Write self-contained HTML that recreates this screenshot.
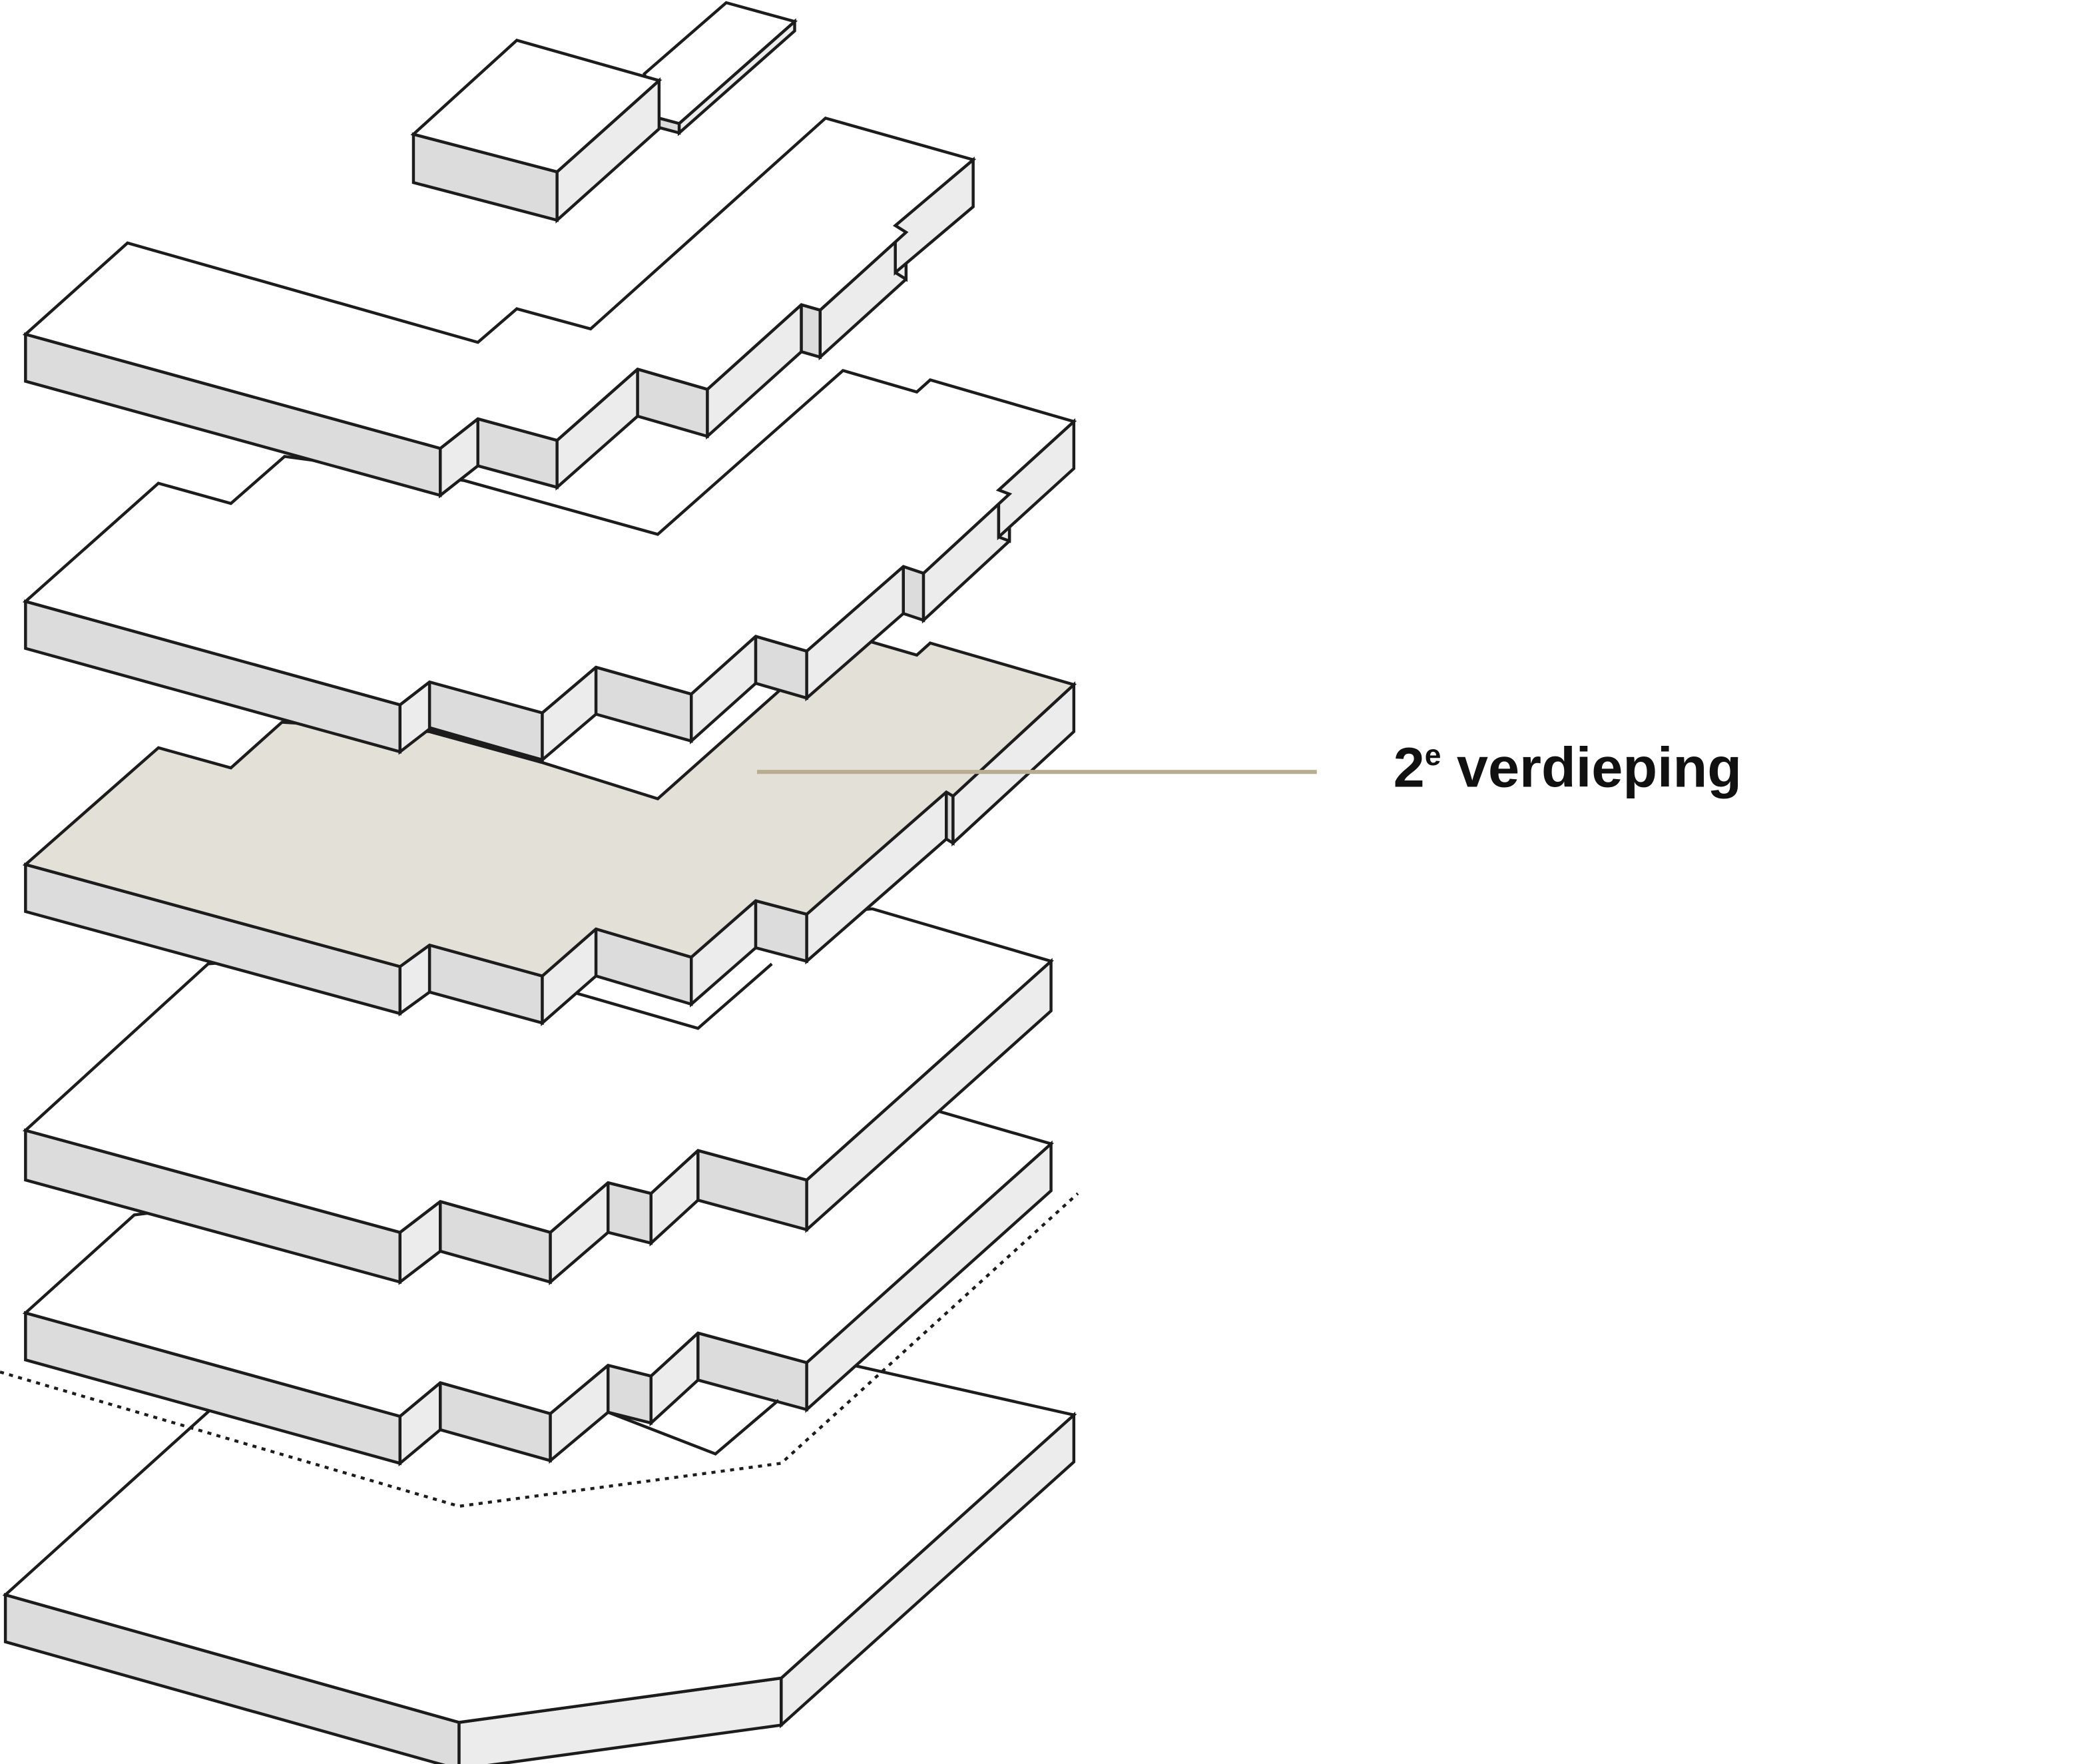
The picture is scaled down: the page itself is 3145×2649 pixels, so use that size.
<!DOCTYPE html>
<html><head><meta charset="utf-8">
<style>
html,body{margin:0;padding:0;background:#fff;}
svg{display:block;}
</style></head>
<body>
<svg id="s" xmlns="http://www.w3.org/2000/svg" width="3145" height="2649" viewBox="0 0 1560 1314">
<rect width="1560" height="1314" fill="#fff"/>
<g id="g" stroke="#1c1c1c" stroke-width="2.2" stroke-linejoin="miter" fill="#fff"></g>
<line x1="564" y1="575" x2="981" y2="575" stroke="#b8ad90" stroke-width="3"/>
<text x="1038" y="586" font-family="Liberation Sans, sans-serif" font-weight="bold" font-size="42" fill="#111">2<tspan font-size="22" dy="-16">e</tspan><tspan dy="16"> verdieping</tspan></text>
</svg>
<script>
var g=document.getElementById('g'),NS='http://www.w3.org/2000/svg';
function poly(pts,fill,extra){var p=document.createElementNS(NS,'polygon');p.setAttribute('points',pts.map(function(q){return q.join(',')}).join(' '));p.setAttribute('fill',fill);if(extra)for(var k in extra)p.setAttribute(k,extra[k]);g.appendChild(p);return p;}
function line(pts,extra){var p=document.createElementNS(NS,'polyline');p.setAttribute('points',pts.map(function(q){return q.join(',')}).join(' '));p.setAttribute('fill','none');if(extra)for(var k in extra)p.setAttribute(k,extra[k]);g.appendChild(p);}
function slab(back,front,h,topFill){
  for(var i=0;i<front.length-1;i++){var a=front[i],b=front[i+1];
    var f=(b[1]>a[1])?'#dcdcdc':'#ececec';
    poly([a,b,[b[0],b[1]+h],[a[0],a[1]+h]],f);}
  var top=back.concat(front.slice().reverse());
  poly(top,topFill||'#fff');
}
slab([[4,1188],[240,975],[560,1000],[800,1054]],[[4,1188],[342,1283],[582,1250],[800,1054]],35);
line([[0,1022],[342,1122],[582,1090],[803,889]],{'stroke-dasharray':'3,4','stroke-width':'2.2'});
slab([[100,905],[700,828]],
 [[19,978],[298,1055],[328,1030],[410,1053],[453,1017],[485,1025],[520,993],[601,1015],[783,852]],35);
line([[453,1052],[533,1083],[580,1043]]);
slab([[155,718],[650,677]],
 [[19,842],[298,918],[328,895],[410,918],[453,881],[485,889],[520,857],[601,879],[783,716]],37);
line([[430,740],[520,766],[575,718]]);
slab([[118,557],[172,572],[210,538],[320,545],[404,568],[490,595],[580,515],[628,472],[683,488],[693,479],[800,510]],
 [[19,644],[298,720],[320,704],[404,727],[444,692],[515,713],[563,671],[601,681],[705,590],[710,593],[800,510]],35,'#e3e0d8');
slab([[118,360],[172,375],[212,340],[346,358],[490,398],[628,276],[683,292],[693,283],[800,314]],
 [[19,448],[298,525],[320,508],[404,531],[444,497],[515,517],[563,474],[601,485],[673,422],[688,427],[752,368],[744,365],[800,314]],35);
line([[320,543],[404,567]],{'stroke-width':'4'});
slab([[95,181],[356,255],[385,230],[440,245],[615,88],[725,119]],
 [[19,249],[328,334],[356,312],[415,328],[475,275],[527,290],[597,227],[611,231],[675,173],[667,168],[725,119]],35);
slab([[480,55],[541,2],[592,16]],[[491,88],[506,92],[592,16]],7);
slab([[308,100],[385,30],[491,60]],[[308,100],[415,128],[491,60]],36);
</script>
</body></html>
